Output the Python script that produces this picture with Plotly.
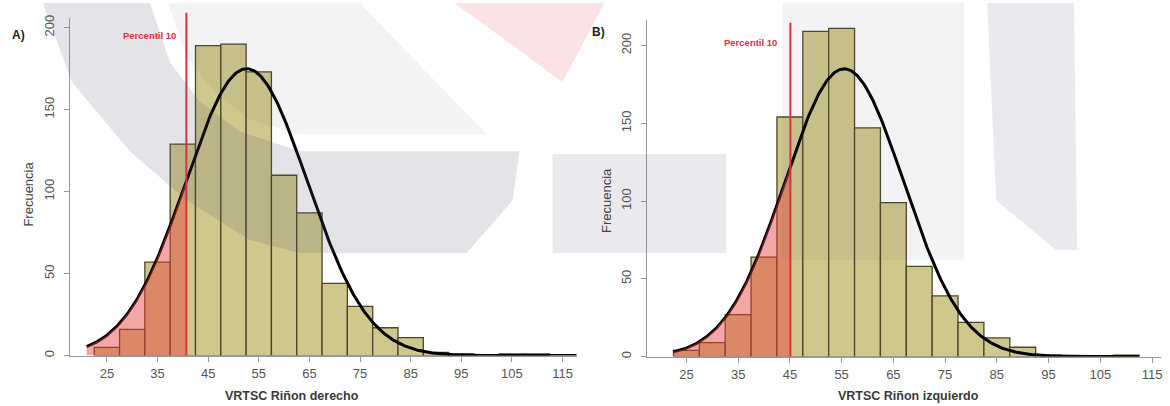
import numpy as np
import plotly.graph_objects as go

# ---------------- data ----------------
bin_centers = [25, 30, 35, 40, 45, 50, 55, 60, 65, 70, 75, 80, 85, 90, 95, 100, 105, 110]
counts_A = [5, 16, 57, 129, 189, 190, 173, 110, 87, 44, 30, 17, 11, 2, 1, 0, 1, 1]
counts_B = [4, 9, 27, 64, 154, 209, 211, 147, 99, 58, 39, 22, 12, 6, 1, 0, 0, 1]
bin_width = 5

# fitted normal curves (mean, sd, peak height in counts, x span of the data)
mean_A, sd_A, peak_A, span_A = 52.6, 12.0, 175, (21.0, 118.0)
mean_B, sd_B, peak_B, span_B = 55.5, 11.5, 185, (22.5, 112.5)

p10_A = 40.7
p10_B = 45.1

x_ticks = [25, 35, 45, 55, 65, 75, 85, 95, 105, 115]
y_ticks = [0, 50, 100, 150, 200]

title_A = "VRTSC Riñon derecho"
title_B = "VRTSC Riñon izquierdo"
ylab = "Frecuencia"
p_label = "Percentil 10"

# ---------------- style ----------------
W, H = 1170, 406
BAR_FILL = "#CFC78B"
BAR_LINE = "#4A4628"
RED_FILL = "rgba(233,60,60,0.46)"
RED_LINE = "#E2303C"
AX = "#9A9A9A"
FONT = "Liberation Sans, Arial, sans-serif"
WM_DARK = "rgba(90,90,120,0.17)"
WM_GREY = "rgba(90,90,120,0.13)"
WM_LIGHT = "rgba(90,90,120,0.07)"
WM_PINK = "rgba(225,60,80,0.15)"


def px(x):
    return x / W


def py(y):
    return 1 - y / H


def curve(mu, sd, peak, span):
    xs = np.linspace(span[0], span[1], 400)
    ys = peak * np.exp(-0.5 * ((xs - mu) / sd) ** 2)
    return xs, ys


fig = go.Figure()

panels = [
    dict(counts=counts_A, mu=mean_A, sd=sd_A, peak=peak_A, span=span_A, p10=p10_A,
         xa="x", ya="y"),
    dict(counts=counts_B, mu=mean_B, sd=sd_B, peak=peak_B, span=span_B, p10=p10_B,
         xa="x2", ya="y2"),
]

for p in panels:
    fig.add_trace(go.Bar(
        x=bin_centers, y=p["counts"], width=bin_width,
        marker=dict(color=BAR_FILL, line=dict(color=BAR_LINE, width=1.3)),
        xaxis=p["xa"], yaxis=p["ya"], showlegend=False, hoverinfo="skip"))
    xs, ys = curve(p["mu"], p["sd"], p["peak"], p["span"])
    fig.add_trace(go.Scatter(
        x=xs, y=ys, mode="lines", line=dict(color="black", width=3),
        xaxis=p["xa"], yaxis=p["ya"], showlegend=False, hoverinfo="skip"))
    m = xs <= p["p10"]
    fx = list(xs[m]) + [p["p10"], p["p10"], xs[0]]
    yv = p["peak"] * np.exp(-0.5 * ((p["p10"] - p["mu"]) / p["sd"]) ** 2)
    fy = list(ys[m]) + [yv, 0, 0]
    fig.add_trace(go.Scatter(
        x=fx, y=fy, mode="lines", fill="toself", fillcolor=RED_FILL,
        line=dict(width=0), xaxis=p["xa"], yaxis=p["ya"],
        showlegend=False, hoverinfo="skip"))

# percentile lines
fig.add_shape(type="line", xref="x", yref="y domain", x0=p10_A, x1=p10_A, y0=0, y1=1.015,
              line=dict(color=RED_LINE, width=2))
fig.add_shape(type="line", xref="x2", yref="y2 domain", x0=p10_B, x1=p10_B, y0=0, y1=0.991,
              line=dict(color=RED_LINE, width=2))


# faint background watermark (logo) drawn as translucent overlays
def poly(points, color):
    d = "M " + " L ".join(f"{px(x):.5f},{py(y):.5f}" for x, y in points) + " Z"
    fig.add_shape(type="path", path=d, xref="paper", yref="paper",
                  fillcolor=color, line=dict(width=0), layer="above")


# outer swoosh (darker)
poly([(43, 0), (150, 0), (170, 60), (200, 100), (240, 130), (300, 150), (520, 150),
      (513, 200), (467, 253), (300, 253), (250, 240), (187, 200), (130, 150), (72, 80)], WM_DARK)
# inner band (lighter)
poly([(168, 0), (360, 0), (487, 133), (300, 133), (250, 118), (215, 90), (187, 55)], WM_LIGHT)
poly([(553, 153), (727, 153), (727, 253), (553, 253)], WM_GREY)
poly([(783, 0), (965, 0), (965, 260), (783, 260)], WM_LIGHT)
poly([(988, 0), (1075, 0), (1078, 250), (1057, 250), (997, 200)], WM_GREY)
poly([(455, 0), (605, 0), (563, 80)], WM_PINK)

axis_common = dict(showgrid=False, zeroline=False, showline=True, linecolor=AX, linewidth=1,
                   ticks="outside", ticklen=5, tickcolor=AX, tickwidth=1,
                   tickfont=dict(family=FONT, size=13, color="#555555"))

fig.update_layout(
    width=W, height=H,
    margin=dict(l=0, r=0, t=0, b=0),
    paper_bgcolor="white", plot_bgcolor="rgba(0,0,0,0)",
    barmode="overlay",
    xaxis=dict(domain=[px(70), px(577)], range=[17.70, 117.76], anchor="y",
               tickvals=x_ticks, ticklabelstandoff=1, **axis_common),
    yaxis=dict(domain=[py(357), py(15)], range=[0, 206], anchor="x",
               tickvals=y_ticks, tickangle=-90, ticklabelstandoff=5, **axis_common),
    xaxis2=dict(domain=[px(648), px(1162)], range=[17.47, 116.73], anchor="y2",
                tickvals=x_ticks, ticklabelstandoff=1, **axis_common),
    yaxis2=dict(domain=[py(358), py(17)], range=[0, 216.5], anchor="x2",
                tickvals=y_ticks, tickangle=-90, ticklabelstandoff=5, **axis_common),
)

ann = []
ann.append(dict(text="<b>A)</b>", x=px(19), y=py(32), font=dict(size=12, color="#222")))
ann.append(dict(text="<b>B)</b>", x=px(599), y=py(29), font=dict(size=12, color="#222")))
ann.append(dict(text=ylab, x=px(29), y=py(193), textangle=-90, font=dict(size=13, color="#444")))
ann.append(dict(text=ylab, x=px(607), y=py(200), textangle=-90, font=dict(size=13, color="#444")))
ann.append(dict(text="<b>" + title_A + "</b>", x=px(292), y=py(398), font=dict(size=12.5, color="#3a3a3a")))
ann.append(dict(text="<b>" + title_B + "</b>", x=px(909), y=py(398), font=dict(size=12.5, color="#3a3a3a")))
ann.append(dict(text="<b>" + p_label + "</b>", x=px(150), y=py(33), font=dict(size=9.5, color="#E03040")))
ann.append(dict(text="<b>" + p_label + "</b>", x=px(751), y=py(40), font=dict(size=9.5, color="#E03040")))
for a in ann:
    a.update(xref="paper", yref="paper", showarrow=False, xanchor="center", yanchor="middle")
    a["font"]["family"] = FONT
fig.update_layout(annotations=ann)

fig.write_html("out.html")
